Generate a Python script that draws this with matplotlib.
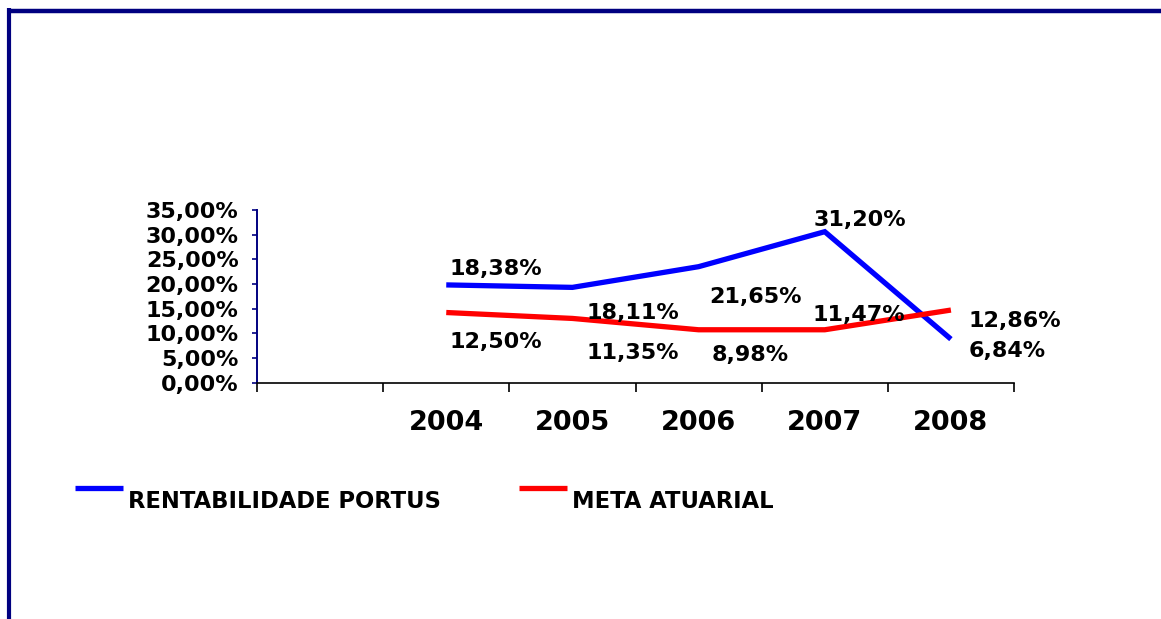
import numpy as np
import matplotlib
matplotlib.use("Agg")
import matplotlib.pyplot as plt
from matplotlib.lines import Line2D
from matplotlib.ticker import FixedLocator, FuncFormatter

# categories (first slot is left empty in the original chart)
CATEGORIES = ["", "2004", "2005", "2006", "2007", "2008"]
YEARS = ["2004", "2005", "2006", "2007", "2008"]

# series values (%)
RENTABILIDADE = [19.8, 19.3, 23.5, 30.6, 8.8]
META = [14.2, 13.0, 10.7, 10.7, 14.7]

# data label texts as printed on the chart
RENT_LABELS = ["18,38%", "18,11%", "21,65%", "31,20%", "6,84%"]
META_LABELS = ["12,50%", "11,35%", "8,98%", "11,47%", "12,86%"]

SERIES_NAMES = ["RENTABILIDADE PORTUS", "META ATUARIAL"]

NAVY = "#000080"
BLUE = "#0000FF"
RED = "#FF0000"
INK = "#000000"

# label offsets in pixels (dx, dy) relative to each point
RENT_OFFSETS = [(3, 10), (14, -32), (11, -36), (-11, 6), (18, -18)]
META_OFFSETS = [(3, -35), (14, -41), (13, -31), (-12, 9), (18, -17)]

plt.rcParams["font.family"] = ["DejaVu Sans"]

W, H = 1161, 619
fig = plt.figure(figsize=(W / 100, H / 100), dpi=100)
fig.patch.set_facecolor("white")

ax = fig.add_axes([257 / W, (H - 382.5) / H, 757 / W, 172.5 / H])
ax.set_xlim(-0.5, len(CATEGORIES) - 0.5)
ax.set_ylim(0, 35)

for s in ("top", "right"):
    ax.spines[s].set_visible(False)
ax.spines["left"].set_color(NAVY)
ax.spines["left"].set_linewidth(1.4)
ax.spines["bottom"].set_color(INK)
ax.spines["bottom"].set_linewidth(1.2)

# y axis
ax.set_yticks(np.arange(0, 36, 5))
ax.yaxis.set_major_formatter(FuncFormatter(lambda v, p: f"{v:.2f}%".replace(".", ",")))
ax.tick_params(axis="y", direction="out", length=3.6, width=1.2, color=NAVY,
               labelcolor=INK, pad=9.6, labelsize=16)
for t in ax.get_yticklabels():
    t.set_fontweight("bold")

# x axis: labels at category centres, tick marks at boundaries
x_all = np.arange(len(CATEGORIES))
ax.set_xticks(x_all)
ax.set_xticklabels(CATEGORIES, fontsize=19.5, fontweight="bold")
ax.tick_params(axis="x", which="major", length=0, pad=19.5)
ax.xaxis.set_minor_locator(FixedLocator(np.arange(-0.5, len(CATEGORIES), 1.0)))
ax.tick_params(axis="x", which="minor", direction="out", length=6.5, width=1.2, color=INK)

x = np.arange(1, len(YEARS) + 1)
ax.plot(x, RENTABILIDADE, color=BLUE, lw=3.8, solid_joinstyle="miter",
        solid_capstyle="butt", clip_on=False)
ax.plot(x, META, color=RED, lw=3.8, solid_joinstyle="miter",
        solid_capstyle="butt", clip_on=False)

for xi, yi, txt, off in zip(x, RENTABILIDADE, RENT_LABELS, RENT_OFFSETS):
    ax.annotate(txt, (xi, yi), xytext=off, textcoords="offset pixels",
                ha="left", va="baseline", fontsize=16, fontweight="bold", color=INK)
for xi, yi, txt, off in zip(x, META, META_LABELS, META_OFFSETS):
    ax.annotate(txt, (xi, yi), xytext=off, textcoords="offset pixels",
                ha="left", va="baseline", fontsize=16, fontweight="bold", color=INK)

# legend, drawn by hand (text sits below the handle as in the original)
leg_y = 1 - 488 / H
for (x0, x1, tx), col, name in zip([(75, 123, 128), (519, 567, 572)],
                                   [BLUE, RED], SERIES_NAMES):
    fig.add_artist(Line2D([x0 / W, x1 / W], [leg_y, leg_y], transform=fig.transFigure,
                          color=col, lw=3.8, solid_capstyle="butt"))
    fig.text(tx / W, 1 - 508 / H, name, ha="left", va="baseline",
             fontsize=16.3, fontweight="bold", color=INK)

# chart area border (top and left edges visible)
fig.add_artist(Line2D([7 / W, 1.0], [1 - 10.5 / H, 1 - 10.5 / H], transform=fig.transFigure,
                      color=NAVY, lw=3.2, solid_capstyle="butt"))
fig.add_artist(Line2D([9 / W, 9 / W], [1 - 8.3 / H, 0.0], transform=fig.transFigure,
                      color=NAVY, lw=3.0, solid_capstyle="butt"))

fig.savefig("out.png", dpi=100, facecolor="white")
